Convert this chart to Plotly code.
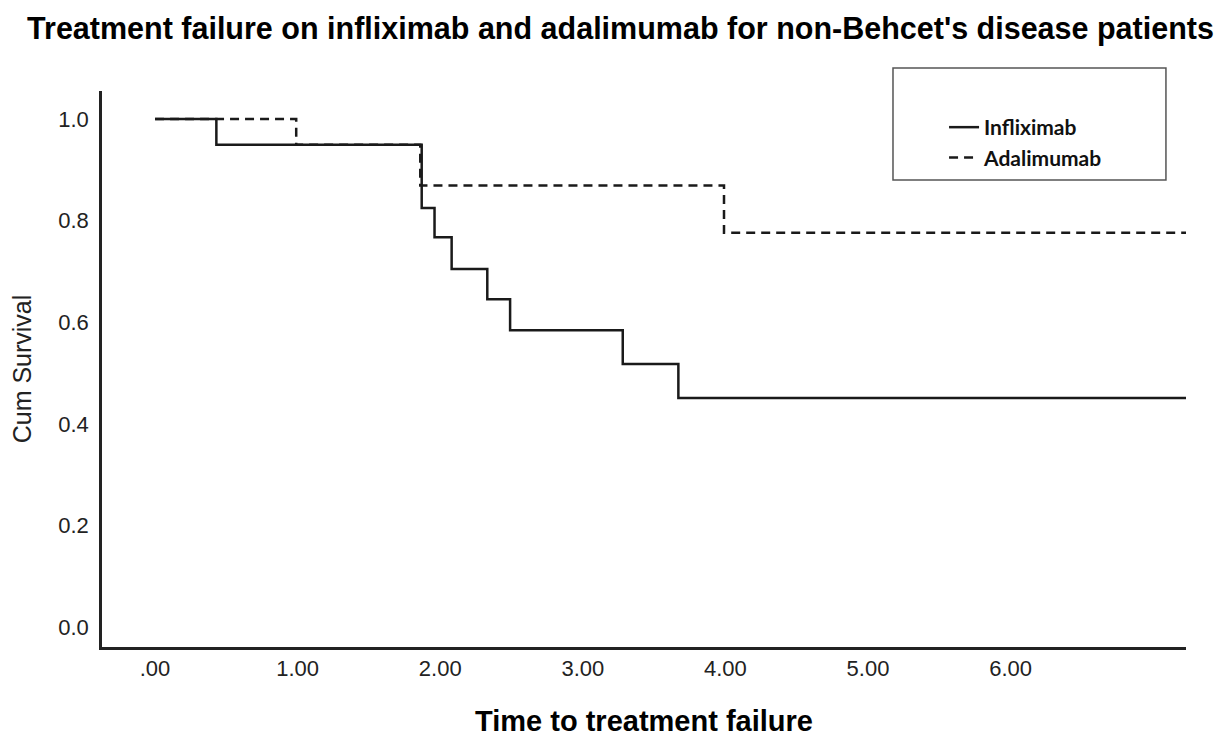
import plotly.graph_objects as go

# Kaplan-Meier step values
infliximab_time = [0, 0.43, 1.87, 1.96, 2.08, 2.33, 2.49, 3.28, 3.67, 7.23]
infliximab_surv = [1.0, 0.949, 0.825, 0.767, 0.705, 0.645, 0.584, 0.518, 0.451, 0.451]

adalimumab_time = [0, 0.99, 1.86, 3.99, 7.23]
adalimumab_surv = [1.0, 0.949, 0.869, 0.776, 0.776]

x_tickvals = [0, 1, 2, 3, 4, 5, 6]
x_ticktext = ['.00', '1.00', '2.00', '3.00', '4.00', '5.00', '6.00']
y_tickvals = [0.0, 0.2, 0.4, 0.6, 0.8, 1.0]

fig = go.Figure()

fig.add_trace(go.Scatter(
    x=infliximab_time, y=infliximab_surv,
    mode='lines', line_shape='hv', name='Infliximab',
    line=dict(color='#1a1a1a', width=2.5)
))

fig.add_trace(go.Scatter(
    x=adalimumab_time, y=adalimumab_surv,
    mode='lines', line_shape='hv', name='Adalimumab',
    line=dict(color='#1a1a1a', width=2.5, dash='9px,6px')
))

fig.update_layout(
    width=1225, height=736,
    plot_bgcolor='white', paper_bgcolor='white',
    margin=dict(l=94, r=47, t=83, b=97),
    title=dict(
        text="Treatment failure on infliximab and adalimumab for non-Behcet's disease patients",
        x=0.5, xanchor='center', y=0.973, yanchor='middle',
        font=dict(family='Liberation Sans', size=30.5, color='black', weight='bold')
    ),
    legend=dict(
        x=0.7768, y=0.9712, xanchor='left', yanchor='top',
        bgcolor='rgba(0,0,0,0)', borderwidth=0,
        font=dict(family='Lato', size=21, color='#111', weight='bold')
    ),
    font=dict(family='Liberation Sans', color='#222')
)

# legend frame
fig.add_shape(type='rect', xref='paper', yref='paper',
              x0=0.7297, x1=0.9815, y0=0.8399, y1=1.0414,
              line=dict(color='#555', width=1.5), fillcolor='rgba(0,0,0,0)')

fig.update_xaxes(
    range=[-0.372, 7.23],
    tickvals=x_tickvals, ticktext=x_ticktext,
    showgrid=False, zeroline=False,
    showline=True, linecolor='#222', linewidth=2.5,
    ticks='', ticklabelstandoff=0,
    tickfont=dict(size=22, color='#222'),
    title=dict(text='Time to treatment failure', standoff=31,
               font=dict(size=29, color='black', weight='bold'))
)

fig.update_yaxes(
    range=[-0.039, 1.055],
    tickvals=y_tickvals, tickformat='.1f',
    showgrid=False, zeroline=False,
    showline=True, linecolor='#222', linewidth=2.5,
    ticks='', ticklabelstandoff=6,
    tickfont=dict(size=22, color='#222'),
    title=dict(text='Cum Survival', standoff=22,
               font=dict(size=25, color='#222'))
)

fig.write_html('out.html')
